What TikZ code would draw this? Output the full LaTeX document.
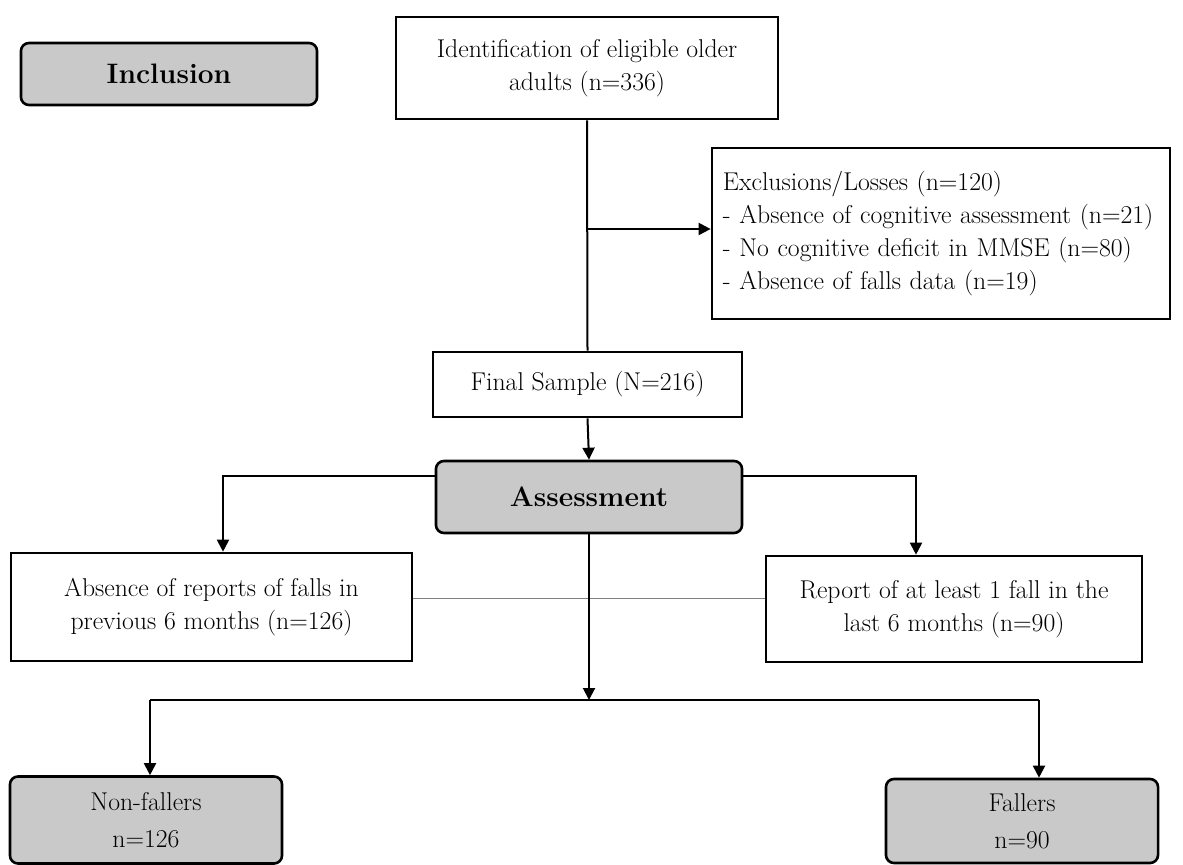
\documentclass[tikz,border=0pt]{standalone}
\usetikzlibrary{arrows.meta}
\definecolor{grisetapa}{RGB}{201,201,201}
\newcommand{\letra}{\fontsize{18.3}{23.4}\selectfont}
\newcommand{\letragrande}{\bfseries\fontsize{20}{24}\selectfont}
\begin{document}
\begin{tikzpicture}[x=0.025cm, y=-0.025cm,
        caja/.style={draw, line width=0.65mm, fill=white, align=center, inner sep=0pt, font=\letra},
        etapa/.style={draw, line width=0.65mm, fill=grisetapa, rounded corners=0.2cm, align=center, inner sep=0pt, font=\letra},
        linea/.style={line width=0.5mm},
        flecha/.style={line width=0.5mm, -{Triangle[length=0.3cm, width=0.3cm]}}]
        \useasboundingbox (0,0) rectangle (1183,865);
        %%%%%%%%%%%%%%%%%%%%%%%% Inclusion %%%%%%%%%%%%%%%%%%%%%%%%%%%%%%%%%%%
        \node[etapa, font=\letragrande, minimum width=7.4cm, minimum height=1.55cm] (inclusion) at (169,74) {Inclusion};
        \node[caja, minimum width=9.55cm, minimum height=2.55cm] (identificacion) at (587,68) {Identification of eligible older\\adults (n=336)};
        \node[caja, align=left, text width=10.9cm, inner xsep=0.275cm, minimum height=4.275cm] (exclusiones) at (941,233.5)
            {Exclusions/Losses (n=120)\\- Absence of cognitive assessment (n=21)\\- No cognitive deficit in MMSE (n=80)\\- Absence of falls data (n=19)};
        \node[caja, minimum width=7.725cm, minimum height=1.625cm] (muestra) at (587.5,384.5) {Final Sample (N=216)};
        %%%%%%%%%%%%%%%%%%%%%%%% Assessment %%%%%%%%%%%%%%%%%%%%%%%%%%%%%%%%%%
        \node[etapa, font=\letragrande, minimum width=7.65cm, minimum height=1.8cm] (evaluacion) at (589,497) {Assessment};
        \node[caja, minimum width=10.025cm, minimum height=2.7cm] (ausencia) at (211.5,607) {Absence of reports of falls in\\previous 6 months (n=126)};
        \node[caja, minimum width=9.4cm, minimum height=2.65cm] (reporte) at (954,609) {Report of at least 1 fall in the\\last 6 months (n=90)};
        \node[etapa, font=\fontsize{18.3}{26}\selectfont, minimum width=6.8cm, minimum height=2.175cm] (nocaidas) at (146,820) {Non-fallers\\n=126};
        \node[etapa, font=\fontsize{18.3}{26}\selectfont, minimum width=6.8cm, minimum height=2.1cm] (caidas) at (1022,821) {Fallers\\n=90};
        %%%%%%%%%%%%%%%%%%%%%%%% Conectores %%%%%%%%%%%%%%%%%%%%%%%%%%%%%%%%%%
        \coordinate (rama) at (587,229); %salida a exclusiones
        \coordinate (izq) at (223,476);
        \coordinate (der) at (916,476);
        \coordinate (medio) at (589,598); %linea fina entre grupos
        \coordinate (cruce) at (589,700);
        \coordinate (bajaizq) at (150,700);
        \coordinate (bajader) at (1039,700);
        \draw[linea] (identificacion.south) -- (muestra.north);
        \draw[flecha] (rama) -- (rama -| exclusiones.west);
        \draw[flecha] (muestra.south) -- (evaluacion.north);
        \draw[flecha] (evaluacion.west |- izq) -| (izq |- ausencia.north);
        \draw[flecha] (evaluacion.east |- der) -| (der |- reporte.north);
        \draw[gray, line width=0.25mm] (medio -| ausencia.east) -- (medio -| reporte.west);
        \draw[flecha] (evaluacion.south) -- (cruce);
        \draw[linea] (bajaizq) -- (bajader); %linea horizontal inferior
        \draw[flecha] (bajaizq) -- (bajaizq |- nocaidas.north);
        \draw[flecha] (bajader) -- (bajader |- caidas.north);
      \end{tikzpicture}
\end{document}
